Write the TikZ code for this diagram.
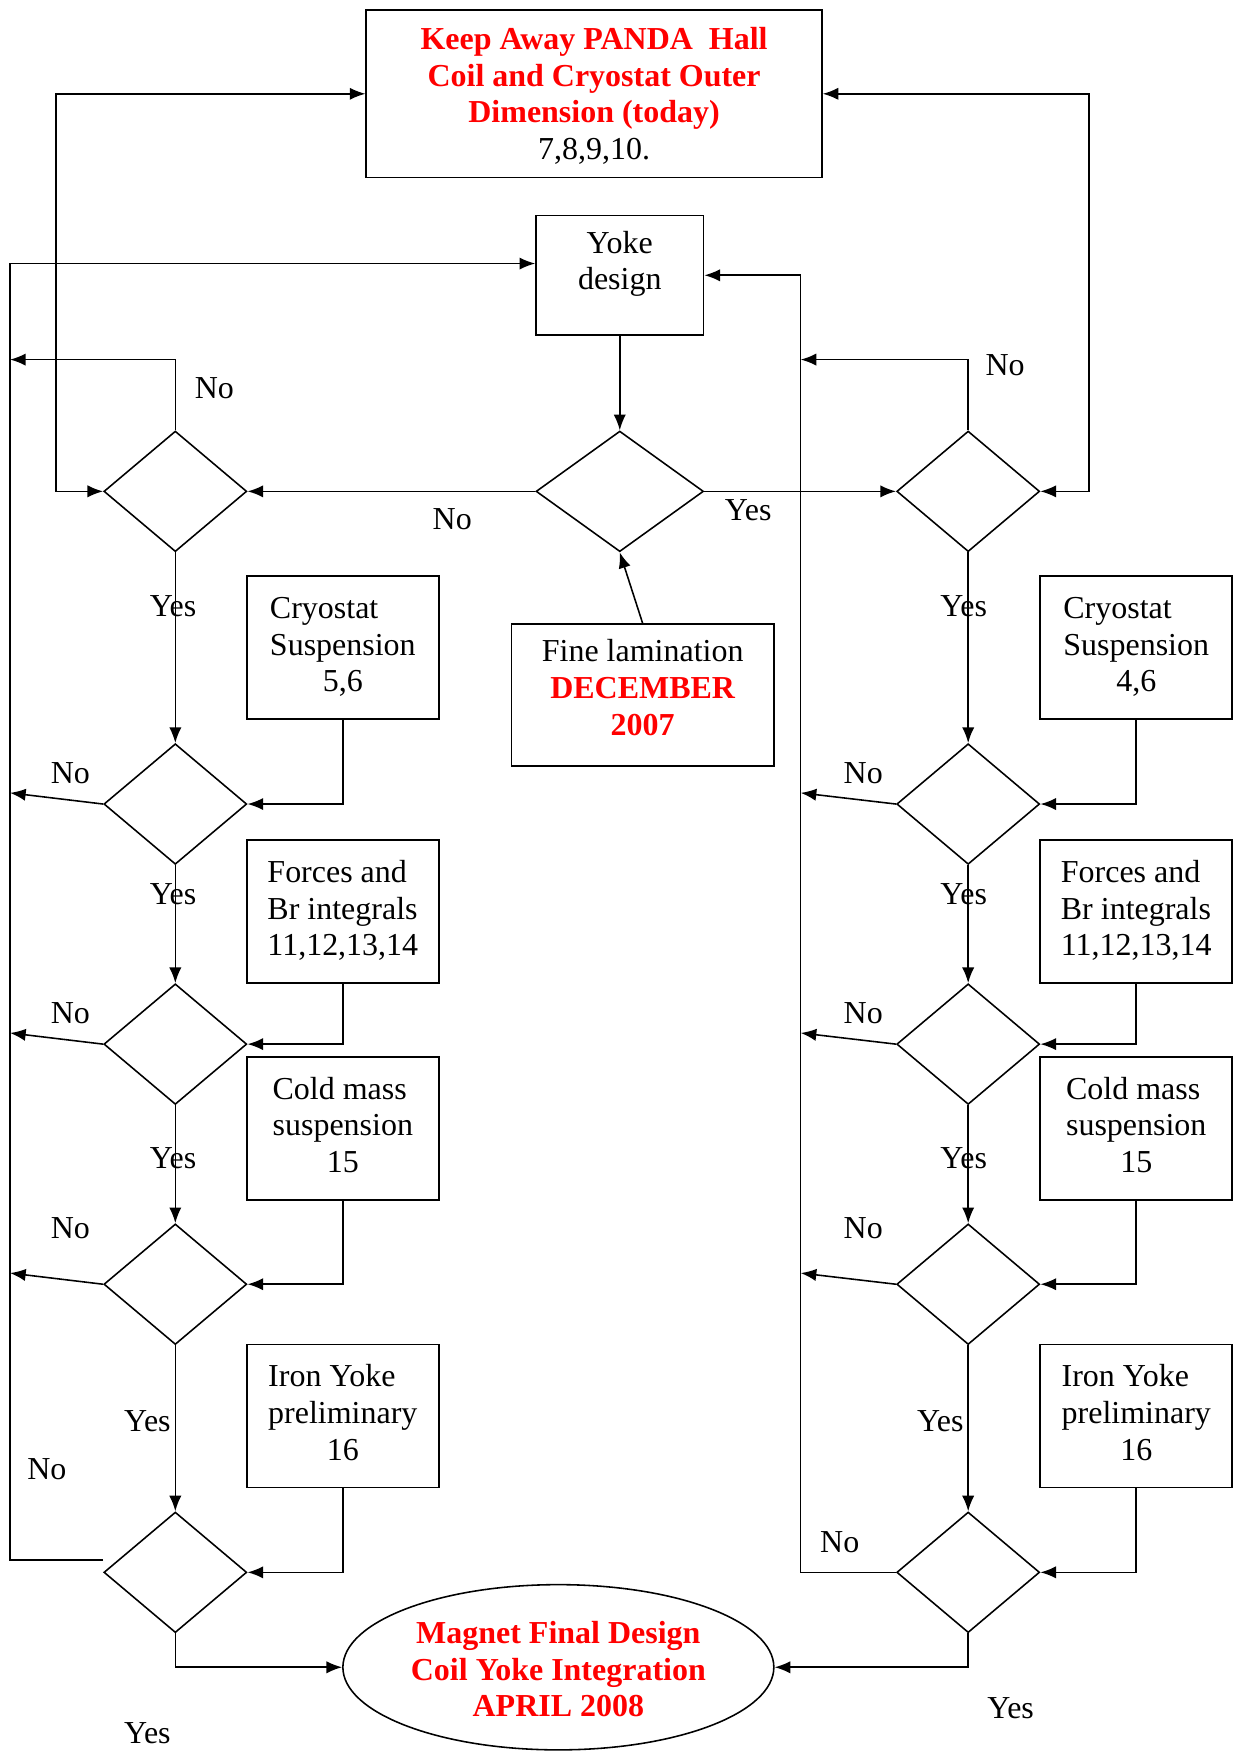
\documentclass[tikz,border=0pt]{standalone}
\usepackage{fontspec}
\setmainfont{Liberation Serif}
\usetikzlibrary{positioning,calc}
\usetikzlibrary{shapes.geometric,arrows.meta}

% three lines: two flush left, the number centred under them
\newcommand{\boxlines}[3]{\begin{tabular}{@{}l@{}}#1\\#2\\\multicolumn{1}{@{}c@{}}{#3}\end{tabular}}

\tikzset{
  box/.style={draw, line width=0.9pt, inner sep=0pt, align=center},
  sidebox/.style={box, minimum width=3.44cm, minimum height=2.56cm},
  decision/.style={draw, diamond, line width=0.8pt, inner sep=0pt, minimum width=2.56cm, minimum height=2.16cm},
  lbl/.style={inner sep=0pt}
}

\begin{document}
\begin{tikzpicture}[x=0.02cm, y=-0.02cm, line width=0.8pt,
  >={Latex[length=0.28cm,width=0.22cm]},
  font=\fontsize{16.3}{18.7}\selectfont]
  \useasboundingbox (0,0) rectangle (1107,1568);

  % Columns of the two branches
  \newcommand{\colL}{157}
  \newcommand{\colR}{867}

  % Boxes on top and in the middle
  \node[box, minimum width=8.16cm, minimum height=3cm] (keepaway) at (532,84)
    {\raisebox{-0.06cm}[\height][\depth]{\begin{tabular}{@{}c@{}}
     \textcolor{red}{\bfseries Keep Away PANDA~~Hall}\\
     \textcolor{red}{\bfseries Coil and Cryostat Outer}\\
     \textcolor{red}{\bfseries Dimension (today)}\\
     7,8,9,10.\end{tabular}}};
  \node[box, minimum width=3cm, minimum height=2.14cm] (yoke) at (555,246.5)
    {\raisebox{0.2cm}[\height][\depth]{\begin{tabular}{@{}c@{}}Yoke\\design\end{tabular}}};
  \node[decision, minimum width=3cm] (check) at (555,440) {};
  \node[box, minimum width=4.7cm, minimum height=2.54cm] (fine) at (575.5,622.5)
    {\raisebox{0.07cm}[\height][\depth]{\begin{tabular}{@{}c@{}}Fine lamination\\
     \textcolor{red}{\bfseries DECEMBER}\\ \textcolor{red}{\bfseries 2007}\end{tabular}}};
  \node[draw, ellipse, minimum width=7.72cm, minimum height=2.96cm, inner sep=0pt] (final) at (500,1493)
    {\raisebox{-0.1cm}[\height][\depth]{\begin{tabular}{@{}c@{}}
     \textcolor{red}{\bfseries Magnet Final Design}\\
     \textcolor{red}{\bfseries Coil Yoke Integration}\\
     \textcolor{red}{\bfseries APRIL 2008}\end{tabular}}};

  % Left branch
  \node[decision] (l1) at (\colL,440) {};
  \node[decision] (l2) at (\colL,720) {};
  \node[decision] (l3) at (\colL,935) {};
  \node[decision] (l4) at (\colL,1150) {};
  \node[decision] (l5) at (\colL,1408) {};
  \node[sidebox] (lcryo) at (307,580) {\boxlines{Cryostat}{Suspension}{5,6}};
  \node[sidebox] (lforce) at (307,816.5) {\boxlines{Forces and}{Br integrals}{11,12,13,14}};
  \node[sidebox] (lcold) at (307,1010.5) {\boxlines{Cold mass}{suspension}{15}};
  \node[sidebox] (liron) at (307,1268) {\boxlines{Iron Yoke}{preliminary}{16}};

  % Right branch
  \node[decision] (r1) at (\colR,440) {};
  \node[decision] (r2) at (\colR,720) {};
  \node[decision] (r3) at (\colR,935) {};
  \node[decision] (r4) at (\colR,1150) {};
  \node[decision] (r5) at (\colR,1408) {};
  \node[sidebox] (rcryo) at (1017.5,580) {\boxlines{Cryostat}{Suspension}{4,6}};
  \node[sidebox] (rforce) at (1017.5,816.5) {\boxlines{Forces and}{Br integrals}{11,12,13,14}};
  \node[sidebox] (rcold) at (1017.5,1010.5) {\boxlines{Cold mass}{suspension}{15}};
  \node[sidebox] (riron) at (1017.5,1268) {\boxlines{Iron Yoke}{preliminary}{16}};

  % Turning points
  \coordinate (lrail) at (50,440);
  \coordinate (rrail) at (975,440);
  \coordinate (lfar) at (9,1397);
  \coordinate (rfar) at (717,1408);
  \coordinate (lback1) at (9,322);
  \coordinate (lback2) at (9,710);
  \coordinate (lback3) at (9,925);
  \coordinate (lback4) at (9,1140);
  \coordinate (rback1) at (717,322);
  \coordinate (rback2) at (717,710);
  \coordinate (rback3) at (717,925);
  \coordinate (rback4) at (717,1140);

  % Middle
  \draw[->] (yoke.south) -- (check.north);
  \draw[->] (fine.north) -- (check.south);
  \draw[->] (check.west) -- (l1.east);
  \draw[->] (check.east) -- (r1.west);
  \draw[<->] (keepaway.west) -| (lrail) -- (l1.west);
  \draw[<->] (keepaway.east) -| (rrail) -- (r1.east);

  % Left branch
  \draw[->] (l1.north) |- (lback1);
  \draw[->] (l1.south) -- (l2.north);
  \draw[->] (l2.south) -- (l3.north);
  \draw[->] (l3.south) -- (l4.north);
  \draw[->] (l4.south) -- (l5.north);
  \draw[->] (lcryo.south) |- (l2.east);
  \draw[->] (lforce.south) |- (l3.east);
  \draw[->] (lcold.south) |- (l4.east);
  \draw[->] (liron.south) |- (l5.east);
  \draw[->] (l2.west) -- (lback2);
  \draw[->] (l3.west) -- (lback3);
  \draw[->] (l4.west) -- (lback4);
  \draw[->] ($(l5.west)+(0,-11)$) -- (lfar) |- ($(yoke.west)+(0,-10.5)$);
  \draw[->] (l5.south) |- (final.west);

  % Right branch
  \draw[->] (r1.north) |- (rback1);
  \draw[->] (r1.south) -- (r2.north);
  \draw[->] (r2.south) -- (r3.north);
  \draw[->] (r3.south) -- (r4.north);
  \draw[->] (r4.south) -- (r5.north);
  \draw[->] (rcryo.south) |- (r2.east);
  \draw[->] (rforce.south) |- (r3.east);
  \draw[->] (rcold.south) |- (r4.east);
  \draw[->] (riron.south) |- (r5.east);
  \draw[->] (r2.west) -- (rback2);
  \draw[->] (r3.west) -- (rback3);
  \draw[->] (r4.west) -- (rback4);
  \draw[->] (r5.west) -- (rfar) |- (yoke.east);
  \draw[->] (r5.south) |- (final.east);

  % Labels
  \node[lbl] (nocheck) at (405,465) {No};
  \node[lbl] (yescheck) at (670,457) {Yes};
  \node[lbl] (nol1) at (192,348) {No};
  \node[lbl] (nol2) at (63,692) {No};
  \node[lbl] (nol3) at (63,907) {No};
  \node[lbl] (nol4) at (63,1100) {No};
  \node[lbl] (nol5) at (42,1316) {No};
  \node[lbl] (yesl1) at (155,543) {Yes};
  \node[lbl] (yesl2) at (155,801) {Yes};
  \node[lbl] (yesl3) at (155,1037) {Yes};
  \node[lbl] (yesl4) at (132,1273) {Yes};
  \node[lbl] (yesl5) at (132,1552) {Yes};
  \node[lbl] (nor1) at (900,327) {No};
  \node[lbl] (nor2) at (773,692) {No};
  \node[lbl] (nor3) at (773,907) {No};
  \node[lbl] (nor4) at (773,1100) {No};
  \node[lbl] (nor5) at (752,1381) {No};
  \node[lbl] (yesr1) at (863,543) {Yes};
  \node[lbl] (yesr2) at (863,801) {Yes};
  \node[lbl] (yesr3) at (863,1037) {Yes};
  \node[lbl] (yesr4) at (842,1273) {Yes};
  \node[lbl] (yesr5) at (905,1530) {Yes};
\end{tikzpicture}
\end{document}
